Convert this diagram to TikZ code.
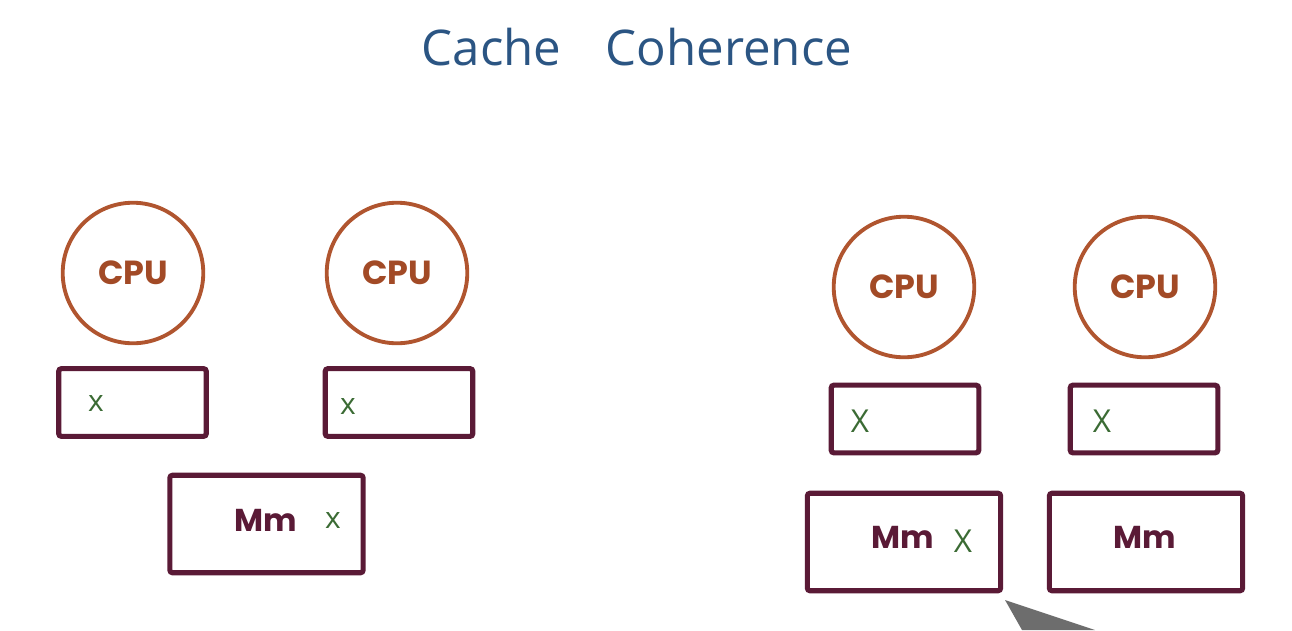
\documentclass[tikz,border=0pt]{standalone}
\usepackage{fontspec}
\setmainfont{Poppins}
\newfontfamily\handfont{Open Sans}
\begin{document}
\begin{tikzpicture}[x=0.02cm,y=-0.02cm,
  cpu/.style={circle,draw=cpuline,line width=2.2pt,minimum size=80pt,inner sep=0pt,
    text=cputext,font=\fontsize{19}{19}\selectfont\bfseries},
  cachebox/.style={draw=boxline,line width=2.9pt,rounded corners=1.5pt,
    minimum width=84pt,minimum height=38.5pt,inner sep=0pt},
  membox/.style={draw=boxline,line width=2.9pt,rounded corners=1.5pt,
    minimum width=110pt,minimum height=55.5pt,inner sep=0pt},
  memlabel/.style={text=boxline,font=\fontsize{18}{18}\selectfont\bfseries,inner sep=0pt},
  val/.style={text=valgreen,font=\handfont\fontsize{17}{17}\selectfont,inner sep=0pt},
  bigval/.style={text=valgreen,font=\handfont\fontsize{18}{18}\selectfont,inner sep=0pt}]
\definecolor{cpuline}{HTML}{B0552F}
\definecolor{cputext}{HTML}{A24A26}
\definecolor{boxline}{HTML}{5A1A36}
\definecolor{valgreen}{HTML}{3B6B34}
\definecolor{titleblue}{HTML}{2B5583}

\useasboundingbox (0,0) rectangle (1292,630);

% title
\node[text=titleblue,font=\handfont\fontsize{28}{28}\selectfont] (title) at (637,47) {Cache\hspace{0.9em}Coherence};

% left system: two CPUs sharing one memory
\node[cpu] (cpuA) at (133,273) {CPU};
\node[cpu] (cpuB) at (397,273) {CPU};
\node[cachebox] (cacheA) at (132.5,402.5) {};
\node[cachebox] (cacheB) at (399,402.5) {};
\node[membox] (memL) at (266.5,524) {};
\node[val] (xA) at (96,403) {x};
\node[val] (xB) at (348,406) {x};
\node[memlabel] (mmL) at (266,520) {Mm};
\node[val] (xL) at (333,520) {x};

% right system: each CPU with its own memory
\node[cpu] (cpuC) at (904,287) {CPU};
\node[cpu] (cpuD) at (1145,287) {CPU};
\node[cachebox] (cacheC) at (905,419) {};
\node[cachebox] (cacheD) at (1144,419) {};
\node[membox] (memC) at (904,542) {};
\node[membox] (memD) at (1146,542) {};
\node[bigval] (xC) at (860,421) {X};
\node[bigval] (xD) at (1102,421) {X};
\node[memlabel] (mmC) at (903,537) {Mm};
\node[bigval] (xM) at (963,541) {X};
\node[memlabel] (mmD) at (1145,537) {Mm};

% pen tip
\fill[gray!65!black,opacity=0.85] (1005,600) -- (1095,630) -- (1022,630) -- cycle;
\end{tikzpicture}
\end{document}
